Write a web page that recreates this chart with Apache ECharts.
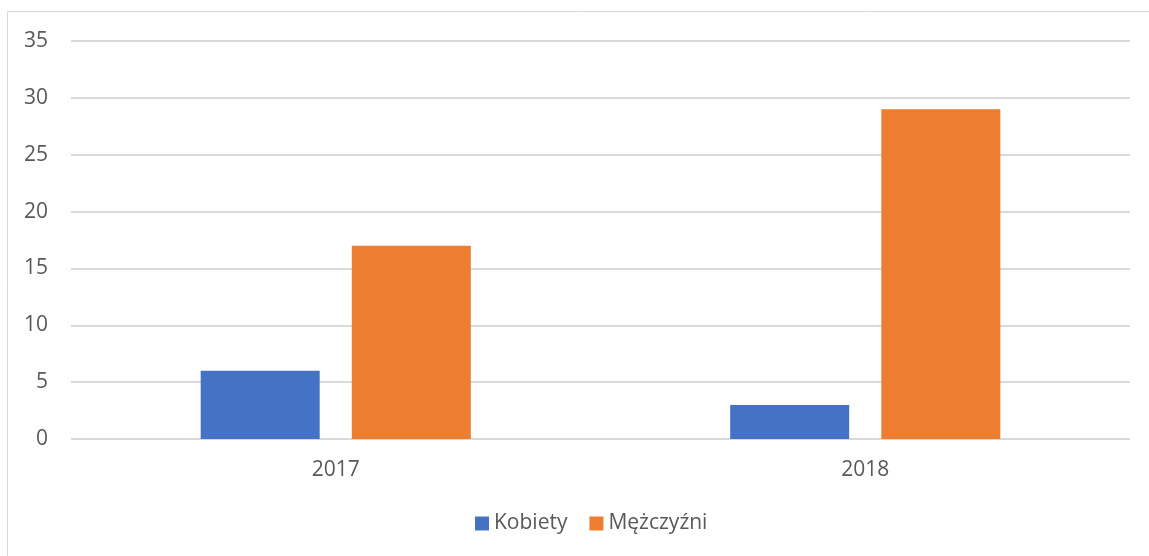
<!DOCTYPE html>
<html>
<head>
<meta charset="utf-8">
<script src="https://cdn.jsdelivr.net/npm/echarts@6/dist/echarts.min.js"></script>
<style>
html,body{margin:0;padding:0;background:#fff;}
#chart{width:1149px;height:556px;}
</style>
</head>
<body>
<div id="chart"></div>
<script>
const categories = ['2017', '2018'];
const kobiety = [6, 3];
const mezczyzni = [17, 29];
const seriesNames = ['Kobiety', 'Mężczyźni'];

const chart = echarts.init(document.getElementById('chart'));
const font = 'Open Sans';
chart.setOption({
  animation: false,
  backgroundColor: '#fff',
  graphic: [{
    type: 'rect',
    shape: { x: 7.5, y: 11.5, width: 1160, height: 560 },
    style: { fill: 'none', stroke: '#d9d9d9', lineWidth: 1 },
    silent: true
  }],
  grid: { left: 71, right: 19, top: 41, bottom: 117, containLabel: false },
  legend: {
    data: seriesNames,
    bottom: 17,
    left: 470,
    itemWidth: 14,
    itemHeight: 14,
    itemGap: 22,
    icon: 'rect',
    textStyle: { fontFamily: font, fontSize: 21, color: '#595959' }
  },
  xAxis: {
    type: 'category',
    data: categories,
    axisLine: { show: false },
    axisTick: { show: false },
    axisLabel: { fontFamily: font, fontSize: 21, color: '#595959', margin: 21 }
  },
  yAxis: {
    type: 'value',
    min: 0, max: 35, interval: 5,
    axisLine: { show: false },
    axisTick: { show: false },
    axisLabel: { fontFamily: font, fontSize: 21, color: '#595959', margin: 23 },
    splitLine: { lineStyle: { color: '#d9d9d9', width: 2 } }
  },
  series: [
    { name: seriesNames[0], type: 'bar', data: kobiety, barWidth: 119, barGap: '27%', itemStyle: { color: '#4472C4' } },
    { name: seriesNames[1], type: 'bar', data: mezczyzni, barWidth: 119, itemStyle: { color: '#ED7D31' } }
  ]
});
</script>
</body>
</html>
